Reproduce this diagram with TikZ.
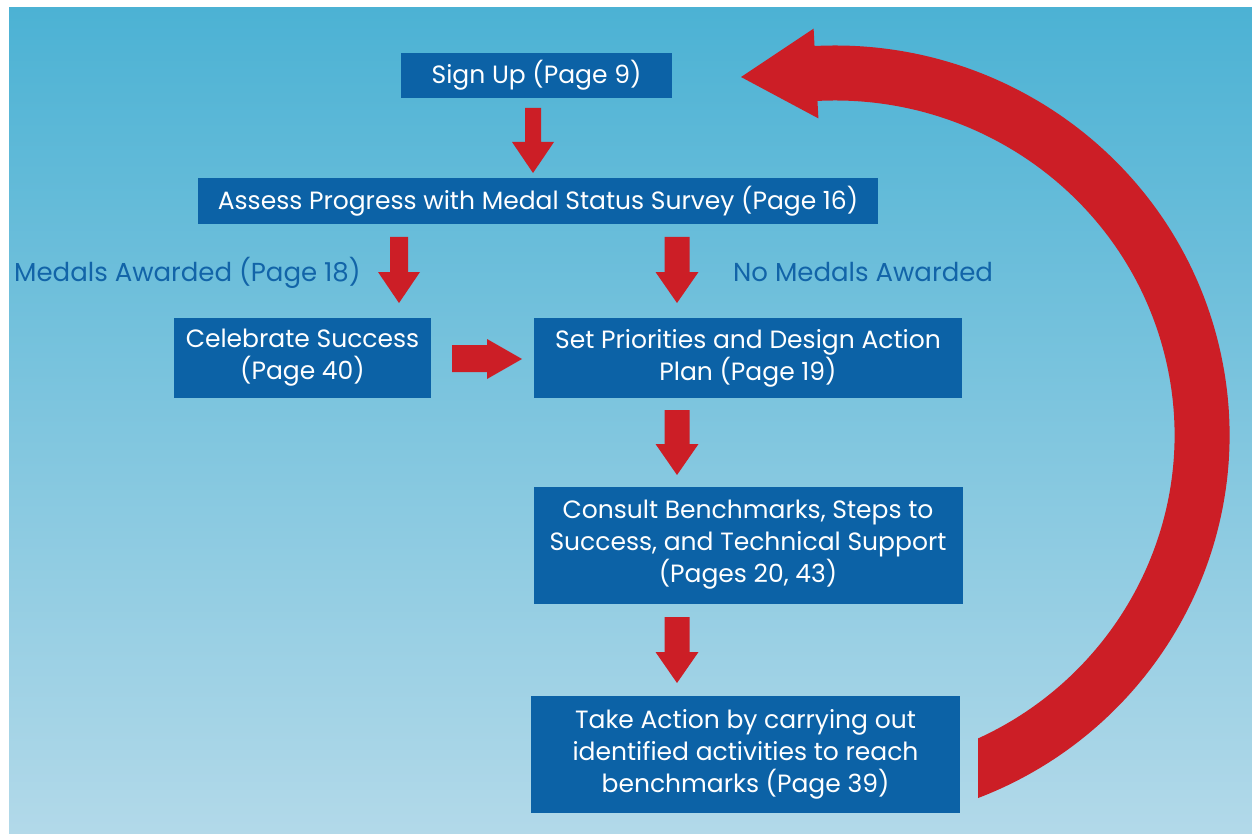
\documentclass[tikz,border=0pt]{standalone}
\usepackage{fontspec}
\setmainfont{Poppins}
\definecolor{boxblue}{RGB}{12,98,166}
\definecolor{arrowred}{RGB}{204,30,38}
\definecolor{bgtop}{RGB}{76,178,212}
\definecolor{bgbot}{RGB}{178,217,233}
\definecolor{labelblue}{RGB}{18,100,168}
\newcommand\blockdn[5]{% x, top, tip, shaft half width, head half width
  \fill[arrowred] ({#1-#4},#2) -- ({#1+#4},#2) -- ({#1+#4},{#3-31}) -- ({#1+#5},{#3-31})
    -- (#1,#3) -- ({#1-#5},{#3-31}) -- ({#1-#4},{#3-31}) -- cycle;}
\begin{document}
\begin{tikzpicture}[x=1pt,y=-1pt,
  box/.style={fill=boxblue, text=white, inner sep=0pt, align=center,
    font=\fontsize{25}{32}\selectfont},
  lbl/.style={text=labelblue, inner sep=0pt, font=\fontsize{26}{32}\selectfont}]
\useasboundingbox (0,0) rectangle (1252,834);
\fill[white] (0,0) rectangle (1252,834);
\shade[top color=bgtop, bottom color=bgbot] (9,8) rectangle (1252,834);

% boxes
\node[box, minimum width=271, minimum height=45] (signup) at (536.5,75.5) {Sign Up (Page 9)};
\node[box, minimum width=680, minimum height=46] (assess) at (538,201) {Assess Progress with Medal Status Survey (Page 16)};
\node[box, minimum width=257, minimum height=80] (celebrate) at (302.5,358) {Celebrate Success\\(Page 40)};
\node[box, minimum width=428, minimum height=80] (priorities) at (748,358) {Set Priorities and Design Action\\Plan (Page 19)};
\node[box, minimum width=429, minimum height=117] (consult) at (748,545) {Consult Benchmarks, Steps to\\Success, and Technical Support\\(Pages 20, 43)};
\node[box, minimum width=429, minimum height=117] (action) at (745.5,754.5) {Take Action by carrying out\\identified activities to reach\\benchmarks (Page 39)};

% labels
\node[lbl, anchor=base west] (medals) at (14,281) {Medals Awarded (Page 18)};
\node[lbl, anchor=base west] (nomedals) at (733,281) {No Medals Awarded};

% straight block arrows
\blockdn{533}{108}{173}{8}{21}
\blockdn{399}{237}{303}{9}{21}
\blockdn{677}{237}{303}{12.5}{21.5}
\blockdn{677}{410}{475}{12.5}{21.5}
\blockdn{677}{617}{683}{12.5}{21.5}
\fill[arrowred] (452,345) -- (487,345) -- (487,339) -- (522,359) -- (487,379) -- (487,372) -- (452,372) -- cycle;

% big return arrow
\begin{scope}
  \clip (0,0) -- (1252,0) -- (1252,834) -- (978,834) -- (978,400) -- (0,400) -- cycle;
  \draw[arrowred, line width=55] (835,435) ++({367*cos(75)},{362*sin(75)})
    arc[start angle=75, end angle=-95, x radius=367, y radius=362];
\end{scope}
\fill[arrowred] (741,77) -- (813.6,28.6) -- (818.4,118.4) -- cycle;
\end{tikzpicture}
\end{document}
